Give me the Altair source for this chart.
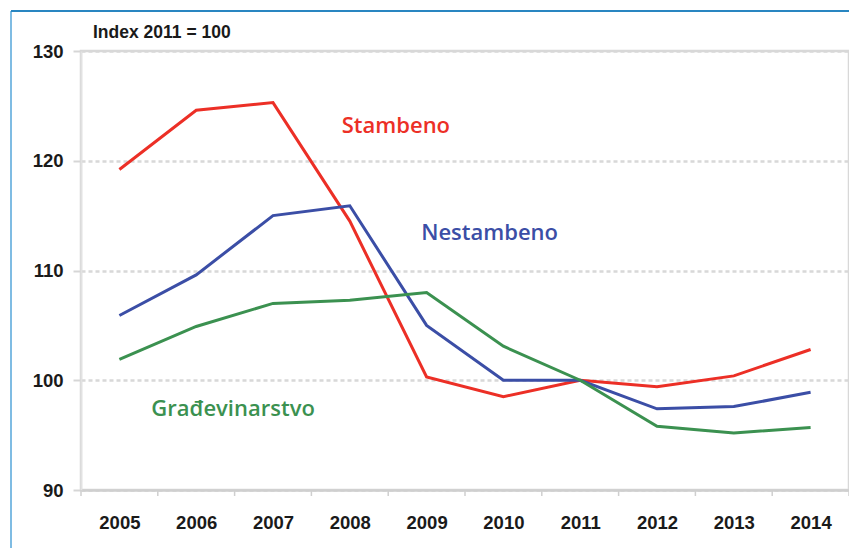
import altair as alt
import pandas as pd

years = [2005, 2006, 2007, 2008, 2009, 2010, 2011, 2012, 2013, 2014]
stambeno = [119.2, 124.6, 125.3, 114.5, 100.3, 98.5, 100.0, 99.4, 100.4, 102.8]
nestambeno = [105.9, 109.6, 115.0, 115.9, 105.0, 100.0, 100.0, 97.4, 97.6, 98.9]
gradjevinarstvo = [101.9, 104.9, 107.0, 107.3, 108.0, 103.1, 100.0, 95.8, 95.2, 95.7]

series_names = ["Stambeno", "Nestambeno", "Građevinarstvo"]
series_colors = ["#ec2f26", "#3b4ea6", "#3b9150"]

label_x = [2008.6, 2009.82, 2006.48]
label_y = [123.2, 113.4, 97.4]

chart_title = ["Index 2011 = 100"]

boundaries = [y - 0.5 for y in years] + [years[-1] + 0.5]

rows = []
for name, vals in zip(series_names, [stambeno, nestambeno, gradjevinarstvo]):
    for yr, v in zip(years, vals):
        rows.append({"year": yr, "value": v, "series": name})
df = pd.DataFrame(rows)
lab = pd.DataFrame({"series": series_names, "x": label_x, "y": label_y})
bnd = pd.DataFrame({"b": boundaries})
ttl = pd.DataFrame({"t": chart_title})

W, H = 768, 439
xscale = alt.Scale(domain=[2004.5, 2014.5], nice=False, zero=False)
yscale = alt.Scale(domain=[90, 130], nice=False, zero=False)
cscale = alt.Scale(domain=series_names, range=series_colors)

lines = alt.Chart(df).mark_line(strokeWidth=3, strokeJoin="miter").encode(
    x=alt.X("year:Q", scale=xscale,
            axis=alt.Axis(values=years, format="d", title=None, grid=False,
                          ticks=False, labelPadding=23, labelFontSize=18.5,
                          labelFontWeight="bold", labelFont="Liberation Sans",
                          labelColor="#1a1a1a", domainColor="#cfcfcf",
                          domainWidth=2.5)),
    y=alt.Y("value:Q", scale=yscale,
            axis=alt.Axis(values=[90, 100, 110, 120, 130], title=None,
                          tickSize=8, tickColor="#d6d6d6", tickWidth=2,
                          labelPadding=10, labelFontSize=18.5,
                          labelFontWeight="bold", labelFont="Liberation Sans",
                          labelColor="#1a1a1a", domainColor="#e2e2e2",
                          domainWidth=1.5, grid=True, gridColor="#d8d8d8",
                          gridDash=[4, 3], gridWidth=2.5)),
    color=alt.Color("series:N", scale=cscale, legend=None),
    detail="series:N",
)

texts = alt.Chart(lab).mark_text(font="Open Sans", fontWeight=600, fontSize=22,
                                 align="center", baseline="middle").encode(
    x=alt.X("x:Q", scale=xscale),
    y=alt.Y("y:Q", scale=yscale),
    text="series:N",
    color=alt.Color("series:N", scale=cscale, legend=None),
)

title_text = alt.Chart(ttl).mark_text(font="Liberation Sans", fontWeight="bold",
                                      fontSize=17.5, align="left",
                                      baseline="alphabetic", color="#1a1a1a").encode(
    x=alt.value(12), y=alt.value(-13), text="t:N"
)

ticks = alt.Chart(bnd).mark_rule(color="#cfcfcf", strokeWidth=1.5).encode(
    x=alt.X("b:Q", scale=xscale),
    y=alt.value(H),
    y2=alt.value(H + 6),
)

frame_left = alt.Chart(bnd).mark_rule(color="#7fbde3", strokeWidth=1.5).encode(
    x=alt.value(-70), y=alt.value(-40), y2=alt.value(H + 60)
)
frame_top = alt.Chart(bnd).mark_rule(color="#2a86c0", strokeWidth=1.5).encode(
    x=alt.value(-70), x2=alt.value(W + 20), y=alt.value(-40)
)

chart = alt.layer(frame_left, frame_top, ticks, lines, texts, title_text).properties(
    width=W, height=H,
    autosize=alt.AutoSizeParams(type="none"),
    padding={"left": 73, "top": 43, "right": 0, "bottom": 58},
).configure_view(stroke="#d8d8d8", strokeWidth=2.5)

chart.save("out.html", embed_options={"renderer": "svg", "actions": False})
